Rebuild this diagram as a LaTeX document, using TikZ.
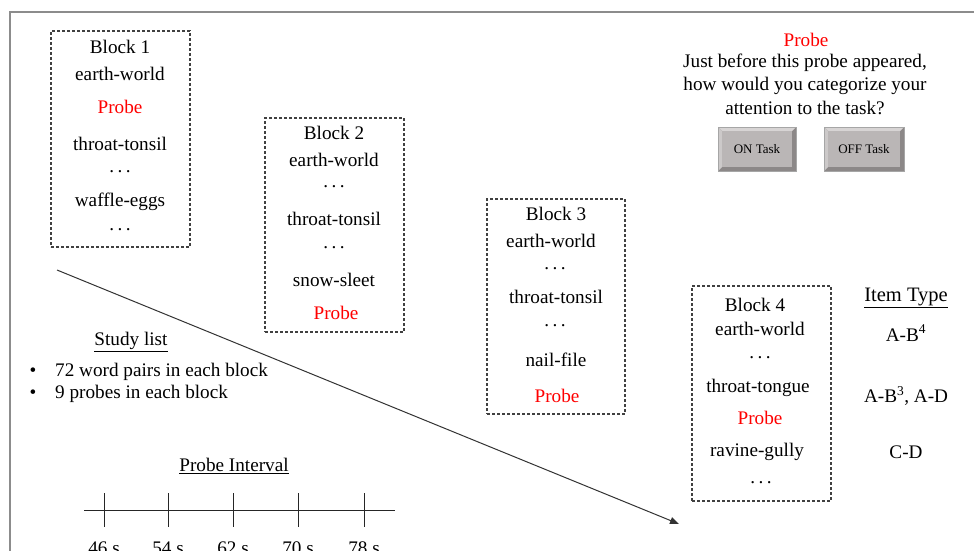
\documentclass[tikz,border=0pt]{standalone}
\usepackage{fontspec}
\setmainfont{Liberation Serif}
\usetikzlibrary{arrows.meta}
\definecolor{probered}{RGB}{255,0,0}
\definecolor{framegray}{RGB}{140,140,140}
\definecolor{btnface}{RGB}{186,182,182}
\definecolor{btndark}{RGB}{140,136,136}
\definecolor{btnlight}{RGB}{215,212,212}
\newcommand{\mydots}{.\hspace{3.5pt}.\hspace{3.5pt}.}
\tikzset{
  txt/.style={inner sep=0pt, font=\fontsize{19.2}{22}\selectfont, text=black},
  probe/.style={txt, text=probered},
  blockbox/.style={draw=black!75, line width=1.1pt, dash pattern=on 3pt off 2pt, inner sep=0pt},
  btntxt/.style={inner sep=0pt, font=\fontsize{13}{15}\selectfont},
  tickln/.style={line width=0.9pt, draw=black!85},
}
\begin{document}
\begin{tikzpicture}[x=1pt,y=-1pt]
\useasboundingbox (0,0) rectangle (974,551);
\fill[white] (0,0) rectangle (974,551);
% frame
\draw[framegray, line width=2pt] (9.5,551) -- (9.5,12) -- (974,12);

% Block 1
\node[blockbox, minimum width=139pt, minimum height=216pt] (b1) at (120.5,139) {};
\node[txt] (b1t) at (120,47) {Block 1};
\node[txt] (b1a) at (120,74) {earth-world};
\node[probe] (b1p) at (120,107) {Probe};
\node[txt] (b1b) at (120,144) {throat-tonsil};
\node[txt] (b1d) at (120,172) {\mydots};
\node[txt] (b1c) at (120,202) {waffle-eggs};
\node[txt] (b1e) at (120,230) {\mydots};

% Block 2
\node[blockbox, minimum width=139pt, minimum height=214pt] (b2) at (334.5,225) {};
\node[txt] (b2t) at (334,133) {Block 2};
\node[txt] (b2a) at (334,160) {earth-world};
\node[txt] (b2d) at (334,187) {\mydots};
\node[txt] (b2b) at (334,219) {throat-tonsil};
\node[txt] (b2e) at (334,248) {\mydots};
\node[txt] (b2c) at (334,280) {snow-sleet};
\node[probe] (b2p) at (336,313) {Probe};

% Block 3
\node[blockbox, minimum width=138pt, minimum height=215pt] (b3) at (556,306.5) {};
\node[txt] (b3t) at (556,214) {Block 3};
\node[txt] (b3a) at (551,241) {earth-world};
\node[txt] (b3d) at (555,269) {\mydots};
\node[txt] (b3b) at (556,297) {throat-tonsil};
\node[txt] (b3e) at (555,326) {\mydots};
\node[txt] (b3c) at (556,360) {nail-file};
\node[probe] (b3p) at (557,396) {Probe};

% Block 4
\node[blockbox, minimum width=139pt, minimum height=215pt] (b4) at (761.5,393.5) {};
\node[txt] (b4t) at (755,305) {Block 4};
\node[txt] (b4a) at (760,329) {earth-world};
\node[txt] (b4d) at (760,358) {\mydots};
\node[txt] (b4b) at (758,388) {throat-tongue};
\node[probe] (b4p) at (760,418) {Probe};
\node[txt] (b4c) at (757,452) {ravine-gully};
\node[txt] (b4e) at (761,483) {\mydots};

% Item type
\node[txt, font=\fontsize{20.5}{24}\selectfont] (it) at (906,298) {\underline{Item Type}};
\node[txt] (it1) at (906,333) {A-B\textsuperscript{4}};
\node[txt] (it2) at (906,396) {A-B\textsuperscript{3}, A-D};
\node[txt] (it3) at (906,452) {C-D};

% Top right question
\node[probe] (qp) at (806,40) {Probe};
\node[txt] (q1) at (805,63) {Just before this probe appeared,};
\node[txt] (q2) at (805,86) {how would you categorize your};
\node[txt] (q3) at (805,108) {attention to the task?};

% Buttons
\foreach \nm/\xa/\xb/\lab in {on/718/796/ON Task, off/824/904/OFF Task}{
  \fill[btndark] (\xa,127) rectangle (\xb,171);
  \fill[btnlight] (\xa,127) -- (\xb,127) -- (\xb-4,131) -- (\xa+4,131) -- cycle;
  \fill[btnlight!85!btndark] (\xa,127) -- (\xa+4,131) -- (\xa+4,167) -- (\xa,171) -- cycle;
  \fill[btnface] (\xa+4,131) rectangle (\xb-4,167);
  \draw[black!35, line width=0.4pt] (\xa,127) rectangle (\xb,171);
  \node[btntxt] (\nm) at ({(\xa+\xb)/2},149) {\lab};
}

% Timeline arrow
\coordinate (as) at (57,270);
\coordinate (ae) at (679,524);
\draw[line width=1pt, black!80, -{Triangle[length=9pt,width=7pt]}] (as) -- (ae);

% Study list
\node[txt] (sl) at (131,342) {\underline{Study list}};
\node[txt] (s1b) at (33,372) {•};
\node[txt, anchor=west] (s1) at (55,372) {72 word pairs in each block};
\node[txt] (s2b) at (33,394) {•};
\node[txt, anchor=west] (s2) at (55,394) {9 probes in each block};

% Probe interval
\node[txt] (pi) at (234,466) {\underline{Probe Interval}};
\coordinate (tl) at (84,510);
\coordinate (tr) at (395,510);
\draw[tickln] (tl) -- (tr);
\foreach \x/\lab [count=\i] in {104/46 s,168/54 s,233/62 s,298/70 s,364/78 s}{
  \coordinate (tk\i a) at (\x,493);
  \coordinate (tk\i b) at (\x,527);
  \draw[tickln] (tk\i a) -- (tk\i b);
  \node[txt, anchor=base] (lab\i) at (\x,554) {\lab};
}
\end{tikzpicture}
\end{document}
